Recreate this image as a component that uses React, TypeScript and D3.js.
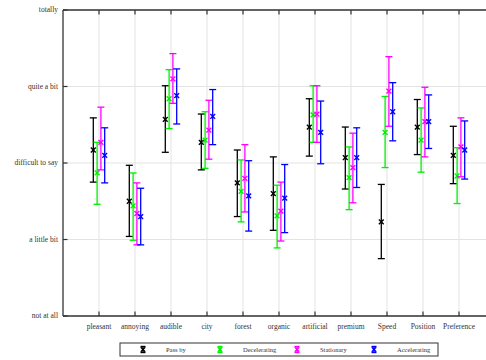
import React from "react";
import * as d3 from "d3";

// Categories and rating scale
const categories = ["pleasant", "annoying", "audible", "city", "forest", "organic", "artificial", "premium", "Speed", "Position", "Preference"];
const yTickLabels = ["not at all", "a little bit", "difficult to say", "quite a bit", "totally"];

// Series: mean ratings with lower / upper error bounds
const seriesNames = ["Pass by", "Decelerating", "Stationary", "Accelerating"];
const seriesColors = ["#000000", "#00ee00", "#ff00ff", "#0000ff"];

const passByMean = [3.17, 2.50, 3.57, 3.27, 2.74, 2.60, 3.47, 3.07, 2.23, 3.47, 3.10];
const passByLow = [2.75, 2.04, 3.14, 2.91, 2.30, 2.12, 3.09, 2.66, 1.75, 3.11, 2.73];
const passByHigh = [3.59, 2.97, 4.01, 3.64, 3.17, 3.08, 3.84, 3.47, 2.72, 3.83, 3.48];

const decelMean = [2.87, 2.44, 3.84, 3.30, 2.63, 2.31, 3.63, 2.81, 3.40, 3.30, 2.83];
const decelLow = [2.46, 1.99, 3.45, 2.93, 2.23, 1.89, 3.27, 2.39, 2.94, 2.88, 2.47];
const decelHigh = [3.27, 2.87, 4.22, 3.67, 3.04, 2.71, 4.01, 3.21, 3.87, 3.72, 3.20];

const statMean = [3.27, 2.34, 4.10, 3.43, 2.80, 2.37, 3.64, 2.94, 3.94, 3.54, 3.21];
const statLow = [2.91, 1.93, 3.78, 3.05, 2.36, 1.98, 3.27, 2.48, 3.48, 3.08, 2.82];
const statHigh = [3.73, 2.74, 4.43, 3.82, 3.24, 2.75, 4.01, 3.39, 4.39, 3.99, 3.59];

const accelMean = [3.10, 2.30, 3.88, 3.61, 2.57, 2.54, 3.40, 3.07, 3.67, 3.54, 3.17];
const accelLow = [2.74, 1.93, 3.51, 3.24, 2.11, 2.09, 2.99, 2.68, 3.29, 3.19, 2.79];
const accelHigh = [3.46, 2.67, 4.23, 3.96, 3.03, 2.98, 3.81, 3.46, 4.05, 3.89, 3.55];

const seriesMeans = [passByMean, decelMean, statMean, accelMean];
const seriesLows = [passByLow, decelLow, statLow, accelLow];
const seriesHighs = [passByHigh, decelHigh, statHigh, accelHigh];
const seriesOffsets = [-1.5, -0.5, 0.5, 1.5];

const W = 486;
const H = 360;
const left = 63;
const top = 10;
const bottom = 316;
const axisColor = "#333";
const gridColor = "#e3e3e3";
const font = "'Liberation Serif', 'Times New Roman', serif";

export default function App() {
  const x = d3.scaleLinear().domain([0, categories.length + 1]).range([left, left + 36 * (categories.length + 1)]);
  const y = d3.scaleLinear().domain([1, 5]).range([bottom, top]);
  const step = 3.8;
  const cap = 3.5;
  const mk = 2.4;

  const cross = (cx: number, cy: number, color: string, key: string) => (
    <g key={key} stroke={color} strokeWidth={1.4}>
      <line x1={cx - mk} y1={cy - mk} x2={cx + mk} y2={cy + mk} />
      <line x1={cx - mk} y1={cy + mk} x2={cx + mk} y2={cy - mk} />
    </g>
  );

  const legendX = 120;
  const legendY = 343;
  const legendW = 318;
  const legendH = 13;
  const legendStep = 77;

  return (
    <svg width={W} height={H} style={{ position: "absolute", left: 0, top: 0, background: "#fff" }}>
      <rect x={0} y={0} width={W} height={H} fill="#fff" />
      {/* grid */}
      {categories.map((c, i) => (
        <line key={"gx" + c} x1={x(i + 1)} x2={x(i + 1)} y1={top} y2={bottom} stroke={gridColor} strokeWidth={1} />
      ))}
      {yTickLabels.map((t, i) => (
        <line key={"gy" + t} x1={left} x2={W} y1={y(i + 1)} y2={y(i + 1)} stroke={gridColor} strokeWidth={1} />
      ))}
      {/* frame */}
      <line x1={left} x2={left} y1={top} y2={bottom} stroke={axisColor} strokeWidth={1.3} />
      <line x1={left} x2={W} y1={bottom} y2={bottom} stroke={axisColor} strokeWidth={1.3} />
      <line x1={left} x2={W} y1={top} y2={top} stroke={axisColor} strokeWidth={1.3} />
      {categories.map((c, i) => (
        <g key={"tx" + c} stroke={axisColor} strokeWidth={1.2}>
          <line x1={x(i + 1)} x2={x(i + 1)} y1={bottom} y2={bottom - 4.5} />
          <line x1={x(i + 1)} x2={x(i + 1)} y1={top} y2={top + 4.5} />
        </g>
      ))}
      {yTickLabels.map((t, i) => (
        <line key={"ty" + t} x1={left} x2={left + 4.5} y1={y(i + 1)} y2={y(i + 1)} stroke={axisColor} strokeWidth={1.2} />
      ))}
      {/* labels */}
      {yTickLabels.map((t, i) => (
        <text key={"ly" + t} x={58} y={y(i + 1)} dy="0.32em" textAnchor="end" fontFamily={font} fontSize={7.5} fill="#333">
          {t}
        </text>
      ))}
      {categories.map((c, i) => (
        <text key={"lx" + c} x={x(i + 1)} y={329} textAnchor="middle" fontFamily={font} fontSize={7.5} fill="#333">
          {c}
        </text>
      ))}
      {/* error bars */}
      {seriesNames.map((s, si) => (
        <g key={"s" + s}>
          {categories.map((c, i) => {
            const cx = x(i + 1) + seriesOffsets[si] * step;
            const yl = y(seriesLows[si][i]);
            const yh = y(seriesHighs[si][i]);
            const ym = y(seriesMeans[si][i]);
            const col = seriesColors[si];
            return (
              <g key={s + c}>
                <g stroke={col} strokeWidth={1.3}>
                  <line x1={cx} x2={cx} y1={yl} y2={yh} />
                  <line x1={cx - cap} x2={cx + cap} y1={yl} y2={yl} />
                  <line x1={cx - cap} x2={cx + cap} y1={yh} y2={yh} />
                </g>
                {cross(cx, ym, col, "m" + s + c)}
              </g>
            );
          })}
        </g>
      ))}
      {/* legend */}
      <rect x={legendX} y={legendY} width={legendW} height={legendH} fill="#fff" stroke={axisColor} strokeWidth={1} />
      {seriesNames.map((s, si) => {
        const sx = 143 + si * legendStep;
        const cy = legendY + legendH / 2;
        const col = seriesColors[si];
        return (
          <g key={"lg" + s}>
            <g stroke={col} strokeWidth={1.4}>
              <line x1={sx} x2={sx} y1={cy - 3} y2={cy + 3} />
              <line x1={sx - 2.5} x2={sx + 2.5} y1={cy - 3} y2={cy - 3} />
              <line x1={sx - 2.5} x2={sx + 2.5} y1={cy + 3} y2={cy + 3} />
              <line x1={sx - 2.2} x2={sx + 2.2} y1={cy - 2.2} y2={cy + 2.2} />
              <line x1={sx - 2.2} x2={sx + 2.2} y1={cy + 2.2} y2={cy - 2.2} />
            </g>
            <text x={sx + 23} y={cy} dy="0.32em" fontFamily={font} fontSize={6.5} fill="#333">
              {s}
            </text>
          </g>
        );
      })}
    </svg>
  );
}
